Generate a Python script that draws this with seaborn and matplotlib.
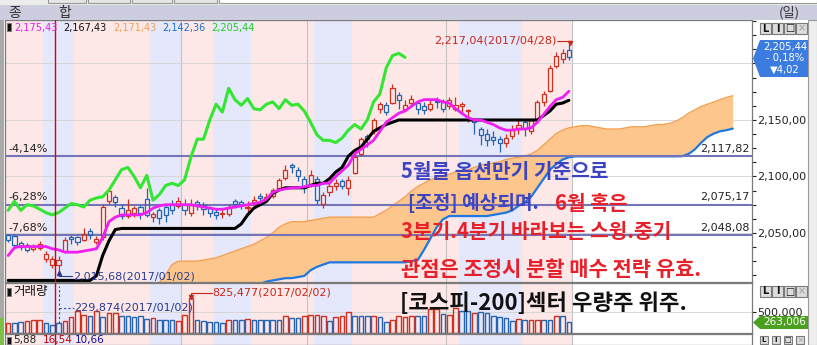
import numpy as np
import matplotlib
matplotlib.use("Agg")
import matplotlib.pyplot as plt
import matplotlib.transforms as mtransforms
from matplotlib.patches import Rectangle, Polygon
from matplotlib.ticker import FixedLocator, MultipleLocator, FuncFormatter, NullFormatter
import seaborn as sns

# ---------------- data (KOSPI daily, 2016/12/20 - 2017/04/28) ----------------
opens = [2048, 2047, 2041, 2039, 2036, 2037, 2027, 2022, 2022, 2034,
         2046, 2046, 2044, 2052, 2042, 2046, 2078, 2082, 2072, 2065,
         2068, 2073, 2080, 2064, 2070, 2073, 2076, 2074, 2076, 2068,
         2077, 2075, 2072, 2069, 2067, 2067, 2078, 2077, 2072, 2077,
         2083, 2080, 2083, 2090, 2099, 2110, 2106, 2098, 2093, 2098,
         2076, 2086, 2092, 2096, 2090, 2103, 2120, 2136, 2140, 2160,
         2163, 2165, 2172, 2160, 2165, 2165, 2162, 2160, 2167, 2166,
         2162, 2160, 2162, 2158, 2150, 2142, 2138, 2135, 2133, 2130,
         2136, 2143, 2148, 2140, 2150, 2166, 2176, 2198, 2204, 2212]
highs = [2049, 2049, 2043, 2041, 2040, 2043, 2034, 2030, 2030, 2046,
         2048, 2047, 2054, 2054, 2047, 2076, 2089, 2084, 2076, 2080,
         2074, 2075, 2090, 2069, 2072, 2076, 2079, 2082, 2080, 2080,
         2079, 2077, 2074, 2072, 2071, 2076, 2080, 2079, 2078, 2083,
         2085, 2085, 2090, 2099, 2110, 2112, 2108, 2100, 2106, 2100,
         2086, 2095, 2098, 2098, 2100, 2120, 2135, 2138, 2152, 2166,
         2166, 2182, 2175, 2168, 2172, 2167, 2166, 2168, 2170, 2169,
         2170, 2170, 2166, 2160, 2152, 2144, 2142, 2140, 2136, 2138,
         2146, 2150, 2150, 2152, 2168, 2176, 2199, 2210, 2213, 2217.04]
lows = [2042, 2036, 2035, 2033, 2034, 2035, 2024, 2019, 2015.68, 2032,
        2040, 2039, 2043, 2045, 2040, 2044, 2076, 2073, 2062, 2063,
        2064, 2062, 2064, 2060, 2058, 2060, 2067, 2072, 2066, 2065,
        2070, 2066, 2064, 2062, 2063, 2065, 2072, 2071, 2069, 2075,
        2077, 2077, 2081, 2088, 2097, 2103, 2096, 2085, 2091, 2076,
        2072, 2083, 2088, 2089, 2084, 2102, 2118, 2126, 2138, 2156,
        2154, 2164, 2160, 2158, 2163, 2155, 2155, 2158, 2161, 2157,
        2160, 2158, 2155, 2148, 2138, 2128, 2127, 2128, 2122, 2126,
        2133, 2138, 2136, 2138, 2148, 2162, 2175, 2196, 2200, 2203]
closes = [2044, 2039, 2038, 2035, 2038, 2040, 2031, 2027, 2026, 2044,
          2045, 2042, 2049, 2048, 2045, 2073, 2087, 2077, 2065, 2070,
          2072, 2068, 2066, 2067, 2063, 2066, 2070, 2078, 2070, 2075,
          2074, 2071, 2068, 2066, 2068, 2072, 2076, 2075, 2073, 2079,
          2081, 2082, 2088, 2097, 2106, 2108, 2100, 2090, 2101, 2079,
          2084, 2092, 2094, 2092, 2097, 2117, 2133, 2133, 2150, 2164,
          2157, 2178, 2168, 2163, 2169, 2160, 2159, 2164, 2166, 2160,
          2168, 2163, 2164, 2158, 2148, 2137, 2132, 2132, 2130, 2134,
          2141, 2146, 2142, 2150, 2166, 2173, 2196, 2207, 2209, 2205.44]
volumes = [236000, 236000, 252000, 276000, 299000, 299000, 236000, 197000, 229874, 276000,
           370000, 511000, 433000, 393000, 511000, 370000, 472000, 472000, 393000, 393000,
           378000, 393000, 330000, 354000, 299000, 299000, 299000, 276000, 433000, 825477,
           315000, 276000, 252000, 252000, 236000, 299000, 299000, 299000, 330000, 299000,
           299000, 299000, 299000, 299000, 409000, 354000, 346000, 393000, 433000, 417000,
           393000, 276000, 370000, 393000, 488000, 393000, 393000, 393000, 393000, 370000,
           252000, 315000, 393000, 370000, 393000, 393000, 409000, 566000, 566000, 449000,
           433000, 590000, 511000, 511000, 472000, 488000, 472000, 393000, 370000, 354000,
           276000, 338000, 315000, 315000, 315000, 299000, 315000, 393000, 393000, 263006]
vol_up = [1, 0, 0, 1, 1, 1, 0, 0, 0, 1,
          1, 1, 1, 0, 1, 0, 1, 1, 0, 0,
          0, 0, 0, 1, 0, 0, 0, 1, 1, 1,
          0, 0, 0, 0, 0, 1, 0, 0, 1, 0,
          0, 0, 0, 0, 1, 0, 0, 1, 1, 1,
          1, 0, 1, 1, 1, 0, 0, 0, 1, 0,
          0, 1, 1, 1, 1, 0, 0, 1, 1, 0,
          1, 1, 0, 0, 1, 0, 0, 0, 0, 0,
          0, 1, 0, 1, 1, 0, 0, 1, 0, 0]
tenkan = [2030, 2037, 2038, 2038, 2038, 2038, 2038, 2036, 2035, 2033,
          2033, 2033, 2034, 2035, 2036, 2046, 2060, 2064, 2066, 2066,
          2066, 2066, 2068, 2072, 2074, 2075, 2075, 2075, 2075, 2075,
          2074, 2073, 2072, 2071, 2071, 2072, 2073, 2074, 2075, 2076,
          2077, 2080, 2086, 2088, 2089, 2090, 2090, 2091, 2092, 2092,
          2094, 2094, 2100, 2105, 2110, 2120, 2124, 2128, 2132, 2140,
          2148, 2152, 2156, 2158, 2162, 2166, 2168, 2168, 2168, 2166,
          2165, 2160, 2156, 2152, 2150, 2150, 2148, 2146, 2143, 2141,
          2141, 2142, 2142, 2143, 2148, 2155, 2162, 2168, 2170, 2175.43]
kijun = [2008, 2008, 2008, 2008, 2008, 2008, 2008, 2008, 2008, 2008,
         2008, 2008, 2008, 2008, 2012, 2030, 2043, 2053, 2054, 2054,
         2054, 2054, 2054, 2054, 2054, 2054, 2054, 2054, 2054, 2054,
         2054, 2054, 2054, 2054, 2054, 2054, 2054, 2058, 2066, 2072,
         2075, 2078, 2085, 2088, 2090, 2090, 2090, 2090, 2092, 2094,
         2094, 2098, 2104, 2108, 2118, 2123, 2126, 2133, 2140, 2143,
         2146, 2148, 2150, 2150, 2150, 2150, 2150, 2150, 2150, 2150,
         2150, 2150, 2150, 2150, 2150, 2150, 2150, 2150, 2150, 2150,
         2150, 2150, 2150, 2150, 2150, 2154, 2158, 2164, 2165, 2167.43]
cloud_start = 20
span_a = [1990, 1994, 1998, 2001, 2006, 2013, 2022, 2025, 2025, 2025,
          2025, 2026, 2027, 2028, 2030, 2032, 2034, 2036, 2038, 2040,
          2043, 2046, 2050, 2055, 2058, 2060, 2060, 2060, 2061, 2062,
          2063, 2064, 2064, 2064, 2064, 2064, 2064, 2064, 2064, 2067,
          2070, 2074, 2078, 2082, 2087, 2091, 2094, 2097, 2099, 2100,
          2102, 2104, 2105, 2106, 2108, 2110, 2111, 2112, 2113, 2115,
          2116, 2117, 2118, 2120, 2123, 2128, 2133, 2138, 2141, 2143,
          2144, 2145, 2145, 2144, 2143, 2142, 2142, 2142, 2143, 2144,
          2144, 2144, 2145, 2146, 2146, 2147, 2149, 2152, 2156, 2159,
          2162, 2164, 2166, 2168, 2170, 2171.43]
span_b = [1990, 1990, 1990, 1990, 1990, 1990, 1990, 1990, 1990, 1990,
          1992, 1994, 1996, 1998, 2000, 2001, 2002, 2003, 2003, 2004,
          2005, 2007, 2008, 2009, 2010, 2010, 2011, 2012, 2017, 2020,
          2022, 2024, 2024, 2024, 2024, 2024, 2024, 2024, 2024, 2024,
          2024, 2024, 2024, 2024, 2025, 2026, 2035, 2045, 2055, 2062,
          2065, 2065, 2065, 2065, 2065, 2065, 2065, 2066, 2067, 2068,
          2070, 2074, 2077, 2082, 2090, 2098, 2106, 2111, 2115, 2117,
          2117.82, 2117.82, 2117.82, 2117.82, 2117.82, 2117.82, 2117.82, 2117.82, 2117.82, 2117.82,
          2117.82, 2117.82, 2117.82, 2117.82, 2117.82, 2117.82, 2117.82, 2118, 2120, 2124,
          2130, 2135, 2138, 2140, 2141, 2142.36]
chikou_shift = 26
ref_levels = [2117.82, 2075.17, 2048.08]
ref_labels = ["2,117,82", "2,075,17", "2,048,08"]
ref_pcts = ["-4,14%", "-6,28%", "-7,68%"]
legend_vals = ["2,175,43", "2,167,43", "2,171,43", "2,142,36", "2,205,44"]
lavender_ranges = [(6, 10), (23, 27), (33, 38), (49, 54), (72, 81)]
month_starts = [28, 48, 70, 90]
year_start = 8
last_info = ["2,205,44", "- 0,18%", "\u25bc4,02"]
last_volume = "263,006"
bottom_vals = ["5,88", "16,54", "10,66"]

# ---------------- style ----------------
sns.set_style("white")
plt.rcParams["font.family"] = ["DejaVu Sans"]
KR = ["Noto Sans CJK KR", "DejaVu Sans"]

W, H = 817, 345
PINK = "#fde7e7"
LAV = "#e5e7fa"
RED = "#d0301e"
BLUE = "#2464b0"

fig = plt.figure(figsize=(W / 100, H / 100), dpi=100)
fig.patch.set_facecolor("white")


def box(x0, y0, x1, y1):
    return [x0 / W, 1 - y1 / H, (x1 - x0) / W, (y1 - y0) / H]


def frect(x0, y0, x1, y1, **kw):
    r = Rectangle((x0 / W, 1 - y1 / H), (x1 - x0) / W, (y1 - y0) / H,
                  transform=fig.transFigure, **kw)
    fig.add_artist(r)


def fpoly(pts, **kw):
    p = Polygon([(x / W, 1 - y / H) for x, y in pts], closed=True,
                transform=fig.transFigure, **kw)
    fig.add_artist(p)


def ftext(x, y, s, **kw):
    kw.setdefault("va", "center")
    kw.setdefault("ha", "left")
    fig.text(x / W, 1 - y / H, s, **kw)


# chrome: toolbar and title bar
frect(0, 0, 817, 5, facecolor="#ececec", edgecolor="none")
for bx0, bx1 in [(48, 86), (88, 130), (132, 172), (174, 217)]:
    frect(bx0, -4, bx1, 3, facecolor="#e4e4e4", edgecolor="#9a9a9a", lw=0.8)
frect(219, -4, 817, 3, facecolor="white", edgecolor="#9a9a9a", lw=0.8)
frect(0, 5, 817, 20, facecolor="#cdcde0", edgecolor="none")
ftext(15, 12.5, "종", fontsize=10, color="#333333", family=KR, ha="center")
ftext(65, 12.5, "합", fontsize=10, color="#333333", family=KR, ha="center")
ftext(789, 12.5, "(일)", fontsize=9.5, color="#333333", family=KR, ha="center")
frect(0, 20, 4, 345, facecolor="#a9a9a9", edgecolor="none")
frect(0, 318, 4, 345, facecolor="#7cc04a", edgecolor="none")
frect(808, 20, 817, 345, facecolor="#eeeeee", edgecolor="#9a9a9a", lw=0.8)

ax = fig.add_axes(box(5, 20, 752, 282))
axv = fig.add_axes(box(5, 283, 752, 333))
axb = fig.add_axes(box(5, 334, 752, 345))

n = len(closes)
idx = np.arange(n)
XL = (-0.5, 118.06)

for a in (ax, axv, axb):
    a.set_facecolor("white")
    a.set_xlim(*XL)
    a.axvspan(-0.5, n - 0.5, color=PINK, lw=0, zorder=0)
    for s0, s1 in lavender_ranges:
        a.axvspan(s0 - 0.5, s1 + 0.5, color=LAV, lw=0, zorder=0.1)
    for m in month_starts:
        a.axvline(m - 0.5, color="#c4c4c4", lw=0.8, zorder=0.3)
    a.axvline(year_start - 0.5, color="#e00000", lw=1.0, zorder=5)
    a.set_xticks([])
    for sp in a.spines.values():
        sp.set_color("#7a7a7a")
        sp.set_linewidth(0.9)

# ---------------- main price panel ----------------
ax.set_ylim(2006.6, 2238.5)
for g in (2050, 2100, 2150, 2200):
    ax.axhline(g, color="#d2d2d2", lw=0.6, zorder=0.4)

xc = np.arange(cloud_start, cloud_start + len(span_a))
ax.fill_between(xc, span_a, span_b, color="#fdc68c", lw=0, zorder=1)
sns.lineplot(x=xc, y=span_a, color="#f4a04c", linewidth=1.0, ax=ax, zorder=1.2)
sns.lineplot(x=xc, y=span_b, color="#1f78e0", linewidth=1.6, ax=ax, zorder=1.3)

for lv in ref_levels:
    ax.axhline(lv, color="#7474b8", lw=1.5, zorder=2)

o = np.array(opens, float)
h = np.array(highs, float)
l = np.array(lows, float)
c = np.array(closes, float)
up = c >= o
ccol = np.where(up, RED, BLUE)
top = np.maximum(o, c)
bot = np.minimum(o, c)
ax.vlines(idx, top, h, colors=ccol, lw=0.9, zorder=3)
ax.vlines(idx, l, bot, colors=ccol, lw=0.9, zorder=3)
ax.bar(idx, np.maximum(top - bot, 0.5), bottom=bot, width=0.66,
       facecolor="none", edgecolor=ccol, linewidth=0.9, zorder=3)

sns.lineplot(x=idx, y=kijun, color="black", linewidth=2.2, ax=ax, zorder=4)
sns.lineplot(x=idx, y=tenkan, color="#f01ef0", linewidth=2.0, ax=ax, zorder=4.1)
sns.lineplot(x=idx[chikou_shift:] - chikou_shift, y=c[chikou_shift:],
             color="#33e633", linewidth=2.2, ax=ax, zorder=4.2)

ax.set_xlabel("")
ax.set_ylabel("")
ax.yaxis.tick_right()
ax.yaxis.set_major_locator(FixedLocator([2050, 2100, 2150]))
ax.yaxis.set_minor_locator(MultipleLocator(12.5))
ax.yaxis.set_major_formatter(FuncFormatter(lambda v, p: f"{v:,.2f}".replace(".", ",")))
ax.yaxis.set_minor_formatter(NullFormatter())
ax.tick_params(axis="y", which="both", direction="out", length=3, width=0.8,
               colors="#222222", labelsize=8, pad=1, left=False, right=True)

# reference level labels
tr = mtransforms.blended_transform_factory(ax.transAxes, ax.transData)
for lv, lab, pct in zip(ref_levels, ref_labels, ref_pcts):
    ax.text(0.004, lv + 2.2, pct, transform=tr, fontsize=8, color="#222222",
            va="bottom", ha="left", zorder=6)
    ax.text(0.997, lv + 2.2, lab, transform=tr, fontsize=8, color="#222222",
            va="bottom", ha="right", zorder=6)

# high / low markers
hi_i = int(np.argmax(h))
ax.plot([hi_i - 1.9, hi_i + 0.2, hi_i + 0.2], [h[hi_i] + 3.2, h[hi_i] + 3.2, h[hi_i] + 1.2],
        color="#c8281a", lw=0.8, zorder=6)
ax.plot([hi_i + 0.2], [h[hi_i] + 1.0], marker="v", color="#c8281a", ms=3, zorder=6)
ax.text(hi_i - 2.0, h[hi_i] + 3.4, "2,217,04(2017/04/28)", color="#c8281a",
        fontsize=8, ha="right", va="center", zorder=6)
lo_i = int(np.argmin(l))
ax.plot([lo_i, lo_i, lo_i + 2.2], [l[lo_i] - 0.5, l[lo_i] - 3.8, l[lo_i] - 3.8],
        color="#2a3c8c", lw=0.8, zorder=6)
ax.plot([lo_i], [l[lo_i] - 0.8], marker="^", color="#2a3c8c", ms=3, zorder=6)
ax.text(lo_i + 2.3, l[lo_i] - 3.8, "2,015,68(2017/01/02)", color="#2a3c8c",
        fontsize=8, ha="left", va="center", zorder=6)

# ---------------- volume panel ----------------
vmax = 1.18e6
axv.set_ylim(0, vmax)
axv.axhline(500000, color="#d2d2d2", lw=0.6, zorder=0.4)
vcol = [RED if u else BLUE for u in vol_up]
axv.bar(idx, volumes, width=0.74, facecolor="none", edgecolor=vcol,
        linewidth=1.0, zorder=3)
axv.yaxis.tick_right()
axv.yaxis.set_major_locator(FixedLocator([500000]))
axv.yaxis.set_major_formatter(FuncFormatter(lambda v, p: f"{v:,.0f}"))
axv.tick_params(axis="y", which="both", direction="out", length=3, width=0.8,
                colors="#222222", labelsize=8, pad=1, left=False, right=True)
jan_i = year_start
axv.plot([jan_i, jan_i], [volumes[jan_i] + 15000, 1.1e6], color="#2a4c9c",
         lw=0.8, ls=(0, (2, 2)), zorder=5)
axv.plot([jan_i, jan_i + 2.4], [590000, 590000], color="#2a4c9c", lw=0.8,
         ls=(0, (2, 2)), zorder=5)
axv.text(jan_i + 2.5, 590000, "229,874(2017/01/02)", color="#2a3c8c", fontsize=8,
         va="center", ha="left", zorder=6)
vmax_i = int(np.argmax(volumes))
axv.plot([vmax_i, vmax_i, vmax_i + 3.3], [volumes[vmax_i] + 40000, 945000, 945000],
         color="#c8281a", lw=0.8, zorder=6)
axv.plot([vmax_i], [volumes[vmax_i] + 30000], marker="v", color="#c8281a", ms=3, zorder=6)
axv.text(vmax_i + 3.4, 945000, "825,477(2017/02/02)", color="#c8281a", fontsize=8,
         va="center", ha="left", zorder=6)

axb.set_ylim(0, 1)
axb.set_yticks([])

# ---------------- header texts ----------------
frect(7, 23, 11, 31, facecolor="#111111", edgecolor="#777777", lw=0.6)
leg_cols = ["#e81ee8", "#111111", "#f4a050", "#1e6ed2", "#22cc22"]
leg_x = [14, 63, 113, 162, 211]
for xx, txt, col in zip(leg_x, legend_vals, leg_cols):
    ftext(xx, 27.5, txt, fontsize=7, color=col)

frect(7, 288, 11, 296, facecolor="#111111", edgecolor="#777777", lw=0.6)
ftext(13, 292, "거래량", fontsize=9, color="#111111", family=KR)
frect(7, 337, 11, 344, facecolor="#111111", edgecolor="#777777", lw=0.6)
ftext(13, 340.5, bottom_vals[0], fontsize=7.5, color="#222222")
ftext(43, 340.5, bottom_vals[1], fontsize=7.5, color="#cc0000")
ftext(75, 340.5, bottom_vals[2], fontsize=7.5, color="#1010a0")


def buttons(y0, size=11, fs=7):
    for k, ch in enumerate(["L", "I", "\u25a1", "\u00d7"]):
        x0 = 760 + 12 * k
        frect(x0, y0, x0 + size, y0 + size, facecolor="#dcdcdc", edgecolor="#7a7a7a", lw=0.8)
        ftext(x0 + size / 2, y0 + size / 2, ch, fontsize=fs, weight="bold",
              color="#aaaaaa" if k == 3 else "#111111", ha="center")


buttons(23)
buttons(286)
buttons(336, size=8, fs=5)

# last price box
fpoly([(760, 40), (808, 40), (808, 77), (760, 77), (753, 58.5)],
      facecolor="#3c7ce0", edgecolor="none", zorder=10)
for k, t in enumerate(last_info):
    ftext(785, 47 + 11.5 * k, t, fontsize=7.2, color="white", ha="center", zorder=11)
# last volume box
fpoly([(760, 316), (808, 316), (808, 329), (760, 329), (753, 322.5)],
      facecolor="#4aa01e", edgecolor="none", zorder=10)
ftext(785, 322.5, last_volume, fontsize=7.5, color="white", ha="center", zorder=11)

# ---------------- commentary ----------------
BL = "#3c44c4"
RD = "#e8202a"
ftext(401, 171, "5월물 옵션만기 기준으로", fontsize=14.6, weight="bold", color=BL, family=KR, zorder=12)
ftext(408, 203, "[조정] 예상되며.", fontsize=13.8, weight="bold", color=BL, family=KR, zorder=12)
ftext(555, 203, "6월 혹은", fontsize=14.6, weight="bold", color=RD, family=KR, zorder=12)
ftext(401, 232, "3분기.4분기 바라보는 스윙.중기", fontsize=14.6, weight="bold", color=RD, family=KR, zorder=12)
ftext(401, 269, "관점은 조정시 분할 매수 전략 유효.", fontsize=15.1, weight="bold", color=RD, family=KR, zorder=12)
ftext(400, 303, "[코스피-200]섹터 우량주 위주.", fontsize=16, weight="bold", color="#111111", family=KR, zorder=12)

fig.savefig("out.png", dpi=100)
